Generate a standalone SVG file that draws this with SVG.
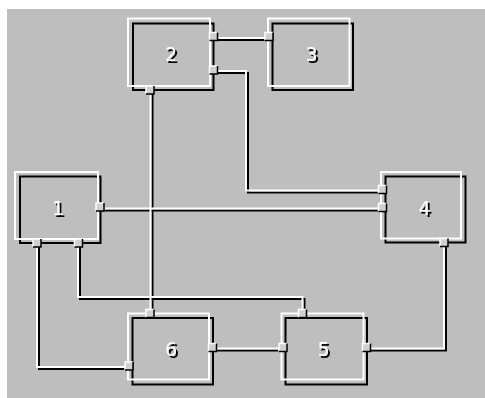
<svg xmlns="http://www.w3.org/2000/svg" xmlns:xlink="http://www.w3.org/1999/xlink" width="485" height="398" viewBox="0 0 485 398">
<style>
.w{stroke:#fff;stroke-width:2;fill:none}
.k{stroke:#000;stroke-width:2;fill:none}
.lbl{font-family:"DejaVu Sans","Liberation Sans",sans-serif;font-size:19px;text-anchor:middle;fill:#fff;filter:url(#emb)}
</style>
<defs>
<filter id="emb" x="-30%" y="-30%" width="170%" height="170%">
<feOffset in="SourceAlpha" dx="1.5" dy="2" result="off"/>
<feFlood flood-color="#000"/>
<feComposite in2="off" operator="in" result="sh"/>
<feMerge><feMergeNode in="sh"/><feMergeNode in="SourceGraphic"/></feMerge>
</filter>
<g id="port">
<rect x="-4" y="-4" width="8" height="8" fill="#d0d0d0"/>
<path d="M-4,4 V-4 H4" stroke="#fff" stroke-width="1.5" fill="none"/>
<path d="M4,-4 V4 H-4" stroke="#000" stroke-width="1.5" fill="none"/>
</g>
</defs>
<rect x="0" y="0" width="485" height="398" fill="#fff"/>
<rect x="7" y="9" width="478" height="389" fill="#bebebe"/>

<g id="connectors">
<g class="k" transform="translate(2,2)">
<path d="M213.5,38 H269"/>
<path d="M213.5,71 H246 V190.5 H382.5"/>
<path d="M99.5,208.5 H382.5"/>
<path d="M150.5,90 V313.5"/>
<path d="M78,243 V297 H302.5 V313.5"/>
<path d="M37,243 V367 H129"/>
<path d="M212,348.5 H283"/>
<path d="M366,348.5 H444 V243"/>
</g>
<g class="w">
<path d="M213.5,38 H269"/>
<path d="M213.5,71 H246 V190.5 H382.5"/>
<path d="M99.5,208.5 H382.5"/>
<path d="M150.5,90 V313.5"/>
<path d="M78,243 V297 H302.5 V313.5"/>
<path d="M37,243 V367 H129"/>
<path d="M212,348.5 H283"/>
<path d="M366,348.5 H444 V243"/>
</g>
</g>

<g id="node1">
<rect class="k" x="20" y="176.5" width="80.5" height="66.5"/>
<rect class="w" x="15" y="172" width="83" height="67"/>
<text class="lbl" x="58" y="214.5">1</text>
<use xlink:href="#port" x="100" y="207"/>
<use xlink:href="#port" x="37" y="243"/>
<use xlink:href="#port" x="78.5" y="243"/>
</g>

<g id="node2">
<rect class="k" x="133" y="23.5" width="80.5" height="66.5"/>
<rect class="w" x="128" y="18.5" width="82" height="67.5"/>
<text class="lbl" x="171" y="61">2</text>
<use xlink:href="#port" x="213.5" y="36.5"/>
<use xlink:href="#port" x="213.5" y="70"/>
<use xlink:href="#port" x="150" y="90"/>
</g>

<g id="node3">
<rect class="k" x="272.5" y="23.5" width="80.5" height="66.5"/>
<rect class="w" x="268" y="18.5" width="81.5" height="67.5"/>
<text class="lbl" x="311.5" y="61">3</text>
<use xlink:href="#port" x="269" y="36.5"/>
</g>

<g id="node4">
<rect class="k" x="385.5" y="176.5" width="80" height="66"/>
<rect class="w" x="381" y="172" width="80" height="66.5"/>
<text class="lbl" x="424.5" y="214.5">4</text>
<use xlink:href="#port" x="382.5" y="189.5"/>
<use xlink:href="#port" x="382.5" y="207.5"/>
<use xlink:href="#port" x="444" y="242.5"/>
</g>

<g id="node5">
<rect class="k" x="285.5" y="318" width="81.5" height="66.5"/>
<rect class="w" x="281.5" y="313.5" width="82" height="66"/>
<text class="lbl" x="323.5" y="356">5</text>
<use xlink:href="#port" x="302.5" y="313.5"/>
<use xlink:href="#port" x="283" y="347.5"/>
<use xlink:href="#port" x="366.5" y="347.5"/>
</g>

<g id="node6">
<rect class="k" x="132.5" y="318" width="80.5" height="66.5"/>
<rect class="w" x="128" y="313.5" width="81" height="66"/>
<text class="lbl" x="171" y="356">6</text>
<use xlink:href="#port" x="150" y="313.5"/>
<use xlink:href="#port" x="129" y="366"/>
<use xlink:href="#port" x="212.5" y="347.5"/>
</g>
</svg>
